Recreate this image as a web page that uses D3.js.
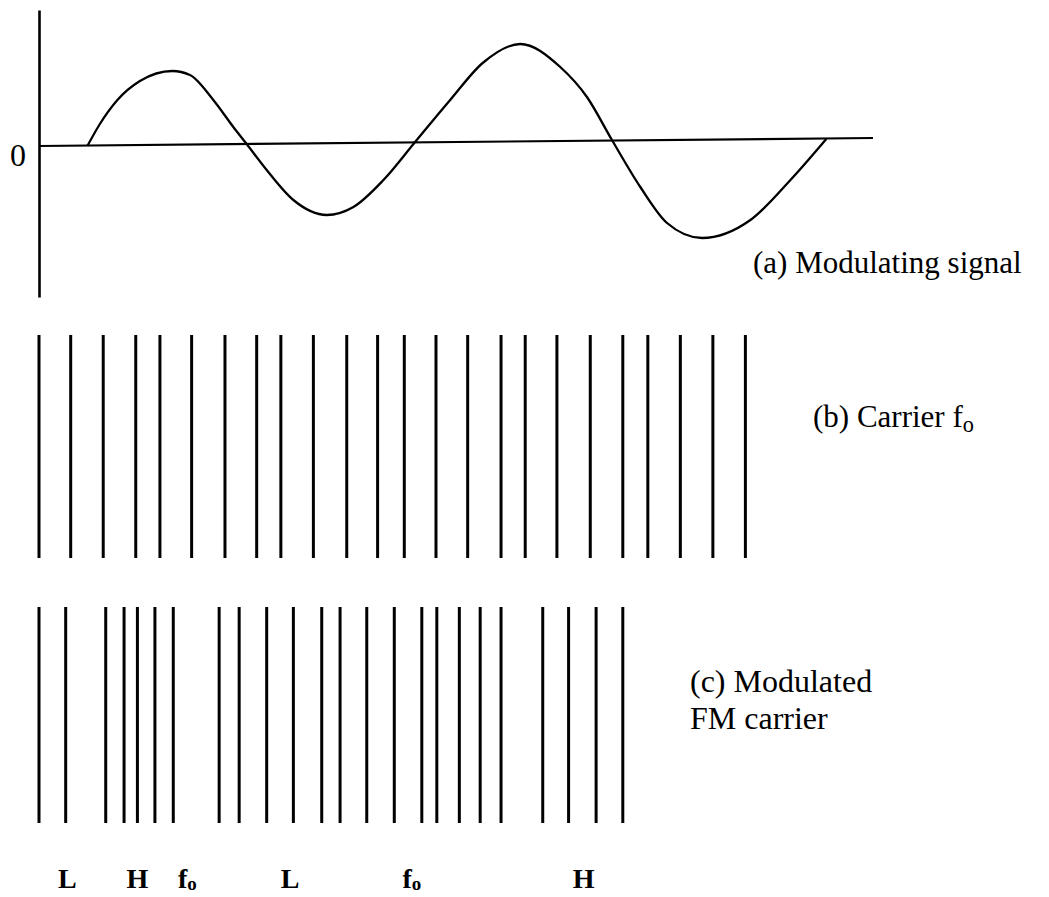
<!DOCTYPE html>
<html>
<head>
<meta charset="utf-8">
<script src="https://cdn.jsdelivr.net/npm/d3@7"></script>
<style>
body { margin: 0; background: #fff; }
</style>
</head>
<body>
<div id="chart"></div>
<script>
// (a) modulating signal: time (ms) and amplitude
var signalT = [0.58, 0.73, 0.94, 1.21, 1.60, 1.81, 2.09, 2.33, 2.49, 2.73, 3.05, 3.45, 3.77, 4.13, 4.50, 4.93, 5.32, 5.77, 6.25, 6.57, 6.87, 7.21, 7.53, 7.95, 8.53, 9.01, 9.44];
var signalV = [0, 0.22, 0.46, 0.65, 0.75, 0.71, 0.46, 0.19, 0.02, -0.24, -0.54, -0.69, -0.61, -0.34, 0.03, 0.46, 0.83, 1.02, 0.79, 0.49, 0.06, -0.41, -0.77, -0.92, -0.74, -0.34, 0.07];

// the drawn zero line drifts up a little to the right
var baselineT = [0, 10];
var baselineV = [0, 0.08];

// (b) carrier f0 : one stroke per cycle
var carrierT = [0, 0.38, 0.77, 1.16, 1.45, 1.83, 2.23, 2.61, 2.90, 3.29, 3.69, 4.06, 4.38, 4.76, 5.14, 5.54, 5.83, 6.21, 6.61, 7.00, 7.30, 7.69, 8.08, 8.47];

// (c) modulated FM carrier
var fmT = [0, 0.32, 0.80, 1.02, 1.18, 1.39, 1.61, 2.16, 2.40, 2.73, 3.05, 3.39, 3.61, 3.93, 4.26, 4.59, 4.77, 5.04, 5.29, 5.54, 6.04, 6.35, 6.68, 7.00];

// frequency marks under (c)
var markText = ['L', 'H', 'f', 'L', 'f', 'H'];
var markSub = ['', '', 'o', '', 'o', ''];
var markT = [0.34, 1.18, 1.78, 3.01, 4.47, 6.53];

var width = 1049,
    height = 897,
    font = '"Liberation Serif", "Times New Roman", serif';

var svg = d3.select('#chart')
    .append('svg')
    .attr('width', width)
    .attr('height', height)
    .style('font-family', font);

var x = d3.scaleLinear()
        .domain([0, 10])
        .range([39, 873]),
    y = d3.scaleLinear()
        .domain([-1.51, 1.36])
        .range([297, 10]);

// vertical axis with the single "0" label
var yAxis = d3.axisLeft(y)
    .tickValues([0])
    .tickSize(0)
    .tickSizeOuter(0)
    .tickPadding(13)
    .tickFormat(() => '0');

var gAxis = svg.append('g')
    .attr('transform', 'translate(' + x(0) + ',0)')
    .attr('font-size', null)
    .call(yAxis);

gAxis.select('.domain')
    .attr('stroke', '#000')
    .attr('stroke-width', 2.6);

gAxis.selectAll('text')
    .attr('dy', '0.6em')
    .attr('font-size', 32)
    .style('font-family', font)
    .style('font-size', '32px')
    .attr('fill', '#000');

// zero line
svg.append('path')
    .datum(d3.zip(baselineT, baselineV))
    .attr('fill', 'none')
    .attr('stroke', '#000')
    .attr('stroke-width', 2.2)
    .attr('d', d3.line().x(d => x(d[0])).y(d => y(d[1])));

// modulating signal
svg.append('path')
    .datum(d3.zip(signalT, signalV))
    .attr('fill', 'none')
    .attr('stroke', '#000')
    .attr('stroke-width', 2.3)
    .attr('d', d3.line()
        .x(d => x(d[0]))
        .y(d => y(d[1]))
        .curve(d3.curveMonotoneX));

// carrier and modulated strokes
var rows = [
    {data: carrierT, top: 335, bottom: 558},
    {data: fmT, top: 607, bottom: 823}
];

rows.forEach(function (row) {
    svg.append('g')
        .selectAll('line')
        .data(row.data)
        .join('line')
        .attr('x1', d => x(d))
        .attr('x2', d => x(d))
        .attr('y1', row.top)
        .attr('y2', row.bottom)
        .attr('stroke', '#000')
        .attr('stroke-width', 3);
});

// captions
function caption(lines, px, py, size, sub) {
    var t = svg.append('text')
        .attr('x', px)
        .attr('y', py)
        .style('font-size', size + 'px')
        .attr('fill', '#000');
    lines.forEach(function (s, i) {
        t.append('tspan')
            .attr('x', px)
            .attr('dy', i == 0 ? 0 : size * 1.15)
            .text(s);
    });
    if (sub) {
        t.append('tspan')
            .attr('dy', 5)
            .style('font-size', (size * 0.72) + 'px')
            .text(sub);
    }
}

caption(['(a) Modulating signal'], 753, 273, 31);
caption(['(b) Carrier f'], 813, 427, 31, 'o');
caption(['(c) Modulated', 'FM carrier'], 690, 692, 32);

// L / H / f0 marks
var marks = svg.append('g')
    .selectAll('text')
    .data(d3.range(markText.length))
    .join('text')
    .attr('x', i => x(markT[i]))
    .attr('y', 888)
    .attr('text-anchor', 'middle')
    .style('font-size', '28px')
    .style('font-weight', 'bold')
    .attr('fill', '#000');

marks.append('tspan')
    .text(i => markText[i]);

marks.append('tspan')
    .attr('dy', 2)
    .style('font-size', '19px')
    .text(i => markSub[i]);
</script>
</body>
</html>
